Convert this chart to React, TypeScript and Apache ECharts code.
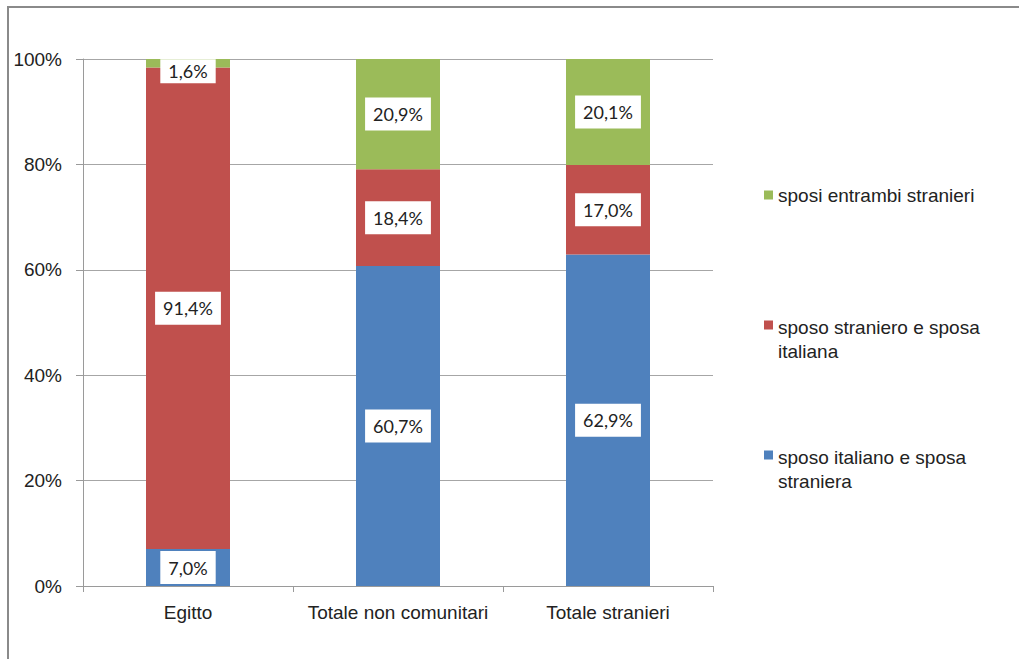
import React, { useEffect, useRef } from "react";
import * as echarts from "echarts";

const categories = ["Egitto", "Totale non comunitari", "Totale stranieri"];
const seriesNames = [
  "sposo italiano e sposa straniera",
  "sposo straniero e sposa italiana",
  "sposi entrambi stranieri",
];
const italianoStraniera = [7.0, 60.7, 62.9];
const stranieroItaliana = [91.4, 18.4, 17.0];
const entrambiStranieri = [1.6, 20.9, 20.1];
const yTicks = [0, 20, 40, 60, 80, 100];

const colors = ["#4F81BD", "#C0504D", "#9BBB59"];
const legendLabels: Record<string, string> = {
  "sposo italiano e sposa straniera": "sposo italiano e sposa\nstraniera",
  "sposo straniero e sposa italiana": "sposo straniero e sposa\nitaliana",
  "sposi entrambi stranieri": "sposi entrambi stranieri",
};

const FONT = "'Liberation Sans Narrow', 'Liberation Sans', Arial, sans-serif";
const LABEL_FONT = "Lato, 'Open Sans', sans-serif";

export default function App() {
  const ref = useRef<HTMLDivElement>(null);
  useEffect(() => {
    document.body.style.margin = "0";
    if (!ref.current) return;
    const chart = echarts.init(ref.current, undefined, { renderer: "svg" });
    const data = [italianoStraniera, stranieroItaliana, entrambiStranieri];
    const label = {
      show: true,
      position: "inside",
      formatter: (p: any) => p.value.toFixed(1).replace(".", ",") + "%",
      backgroundColor: "#ffffff",
      padding: [8, 8, 7, 8],
      color: "#222222",
      fontSize: 18,
      fontFamily: LABEL_FONT,
    };
    const series = seriesNames.map((name, i) => ({
      name,
      type: "bar",
      stack: "total",
      barWidth: "40%",
      itemStyle: { color: colors[i] },
      label,
      data: data[i].map((v, j) =>
        i === 2 && j === 0 ? { value: v, label: { offset: [0, 8], padding: [3, 8, 3, 8] } } : v
      ),
    }));
    // tall icon so the square sits on the first text line
    const tallIcon = "path://M0,0h10v10h-10z M0,41h0.01v0.01h-0.01z";
    const legendTops = [178, 310, 440];
    const legends = [2, 1, 0].map((si, k) => ({
      data: [seriesNames[si]],
      orient: "vertical",
      left: 759,
      top: legendTops[k],
      icon: si === 2 ? "rect" : tallIcon,
      itemWidth: 9,
      itemHeight: si === 2 ? 9 : 41,
      itemGap: 6,
      formatter: (n: string) => legendLabels[n],
      textStyle: { fontSize: 19, fontFamily: FONT, color: "#222222", lineHeight: 24 },
      selectedMode: false,
    }));
    chart.setOption({
      animation: false,
      backgroundColor: "#ffffff",
      grid: { left: 83, right: 306, top: 59, bottom: 73, containLabel: false },
      legend: legends,
      xAxis: {
        type: "category",
        data: categories,
        axisLine: { lineStyle: { color: "#9a9a9a", width: 1 } },
        axisTick: { show: true, length: 6, alignWithLabel: false, lineStyle: { color: "#9a9a9a" } },
        axisLabel: { interval: 0, margin: 17, fontSize: 19, fontFamily: FONT, color: "#222222" },
      },
      yAxis: {
        type: "value",
        min: 0,
        max: 100,
        interval: 20,
        axisLine: { show: true, lineStyle: { color: "#9a9a9a", width: 1 } },
        axisTick: { show: true, length: 7, lineStyle: { color: "#9a9a9a" } },
        splitLine: { lineStyle: { color: "#a6a6a6", width: 1 } },
        axisLabel: {
          margin: 21,
          fontSize: 19,
          fontFamily: FONT,
          color: "#222222",
          formatter: (v: number) => (yTicks.includes(v) ? v + "%" : ""),
        },
      },
      graphic: [
        {
          type: "rect",
          shape: { x: 8, y: 7, width: 1100, height: 700 },
          style: { fill: "none", stroke: "#8a8a8a", lineWidth: 2 },
          silent: true,
          z: 100,
        },
      ],
      series,
    });
    return () => chart.dispose();
  }, []);
  return <div ref={ref} style={{ width: 1019, height: 659 }} />;
}
